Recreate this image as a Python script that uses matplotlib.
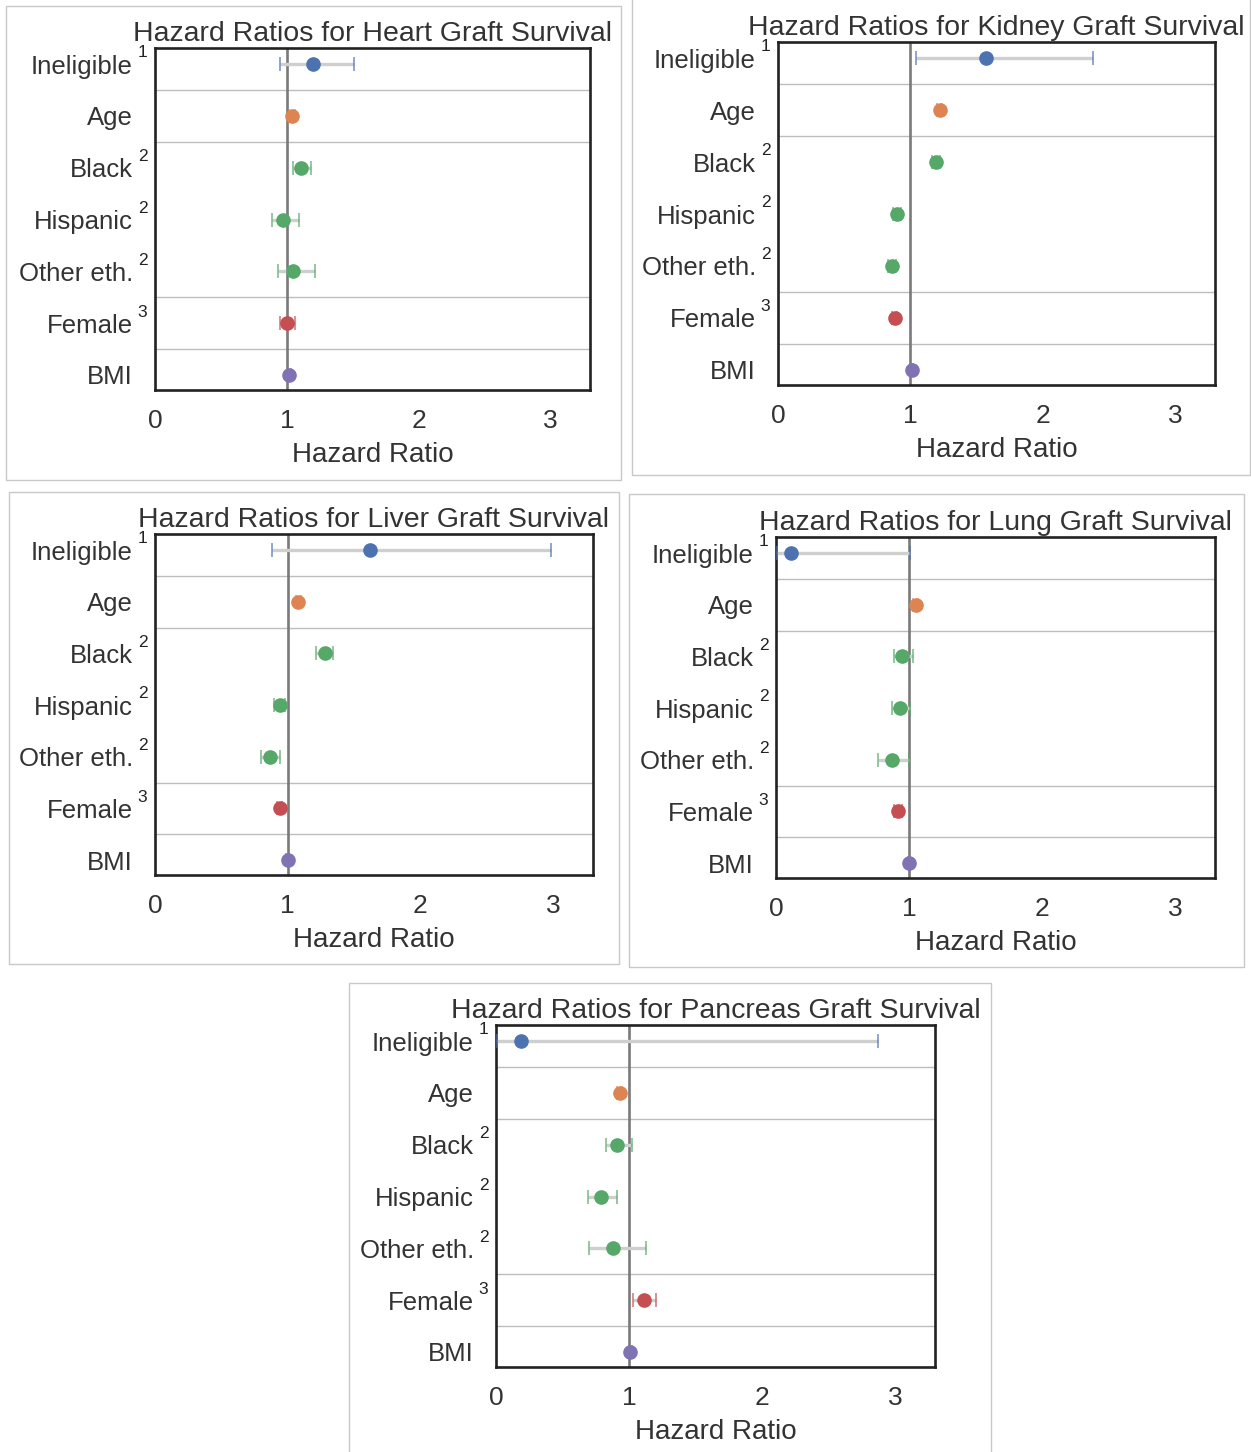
import matplotlib
matplotlib.use("Agg")
import matplotlib.pyplot as plt
from matplotlib.patches import Rectangle

plt.rcParams["font.family"] = ["Liberation Sans", "DejaVu Sans"]

# Covariates (top to bottom) and their footnote markers
labels = ["Ineligible", "Age", "Black", "Hispanic", "Other eth.", "Female", "BMI"]
footnotes = ["1", "", "2", "2", "2", "3", ""]

# Hazard ratios with lower / upper confidence bounds
heart_hr = [1.20, 1.04, 1.11, 0.97, 1.05, 1.00, 1.02]
heart_lo = [0.95, 1.02, 1.05, 0.89, 0.93, 0.95, 1.01]
heart_hi = [1.51, 1.06, 1.18, 1.09, 1.21, 1.06, 1.03]

kidney_hr = [1.57, 1.22, 1.19, 0.90, 0.86, 0.88, 1.01]
kidney_lo = [1.04, 1.20, 1.16, 0.87, 0.83, 0.86, 1.00]
kidney_hi = [2.38, 1.24, 1.22, 0.93, 0.89, 0.90, 1.02]

liver_hr = [1.62, 1.08, 1.28, 0.94, 0.87, 0.94, 1.00]
liver_lo = [0.88, 1.06, 1.21, 0.90, 0.80, 0.92, 0.99]
liver_hi = [2.98, 1.10, 1.34, 0.98, 0.94, 0.96, 1.01]

lung_hr = [0.11, 1.05, 0.95, 0.93, 0.87, 0.92, 1.00]
lung_lo = [0.01, 1.03, 0.89, 0.87, 0.77, 0.89, 0.99]
lung_hi = [1.01, 1.07, 1.03, 1.01, 1.00, 0.95, 1.01]

pancreas_hr = [0.19, 0.93, 0.91, 0.79, 0.88, 1.11, 1.01]
pancreas_lo = [0.01, 0.91, 0.83, 0.69, 0.70, 1.03, 1.00]
pancreas_hi = [2.87, 0.95, 1.02, 0.91, 1.13, 1.20, 1.02]

xticks = [0, 1, 2, 3]
row_colors = ["#4C72B0", "#DD8452", "#55A868", "#55A868", "#55A868", "#C44E52", "#8172B3"]
separators = [0.5, 1.5, 4.5, 5.5]

W, H = 1251, 1452
fig = plt.figure(figsize=(W / 100, H / 100), dpi=100)
fig.patch.set_facecolor("white")

TEXT = "#333333"


def px_axes(left, right, top, bottom):
    return [left / W, 1 - bottom / H, (right - left) / W, (bottom - top) / H]


def panel(rect, organ, hr, lo, hi):
    ax = fig.add_axes(px_axes(*rect))
    ax.set_xlim(0, 3.3)
    ax.set_ylim(6.29, -0.31)
    for y in separators:
        ax.axhline(y, color="#bdbdbd", lw=1.0, zorder=1)
    ax.axvline(1, color="#7a7a7a", lw=1.9, zorder=2)
    rows = list(range(len(labels)))
    for i in rows:
        ax.hlines(i, lo[i], hi[i], color="#cfcfcf", lw=2.4, zorder=3)
        ax.plot([lo[i], hi[i]], [i, i], ls="none", marker="|", ms=10,
                mew=1.1, color=row_colors[i], alpha=0.8, zorder=4)
        ax.plot(hr[i], i, "o", ms=9.5, color=row_colors[i], zorder=5)
    ax.set_yticks(rows)
    ax.set_yticklabels(labels, fontsize=18.5, color=TEXT)
    ax.set_xticks(xticks)
    ax.set_xticklabels([str(t) for t in xticks], fontsize=19, color=TEXT)
    ax.tick_params(axis="both", length=0)
    ax.tick_params(axis="y", pad=16)
    ax.tick_params(axis="x", pad=14)
    ax.set_xlabel("Hazard Ratio", fontsize=20, color=TEXT, labelpad=6)
    ax.set_title(f"Hazard Ratios for {organ} Graft Survival", fontsize=20.5,
                 color=TEXT, pad=5)
    for s in ax.spines.values():
        s.set_color("#222222")
        s.set_linewidth(1.9)
    for i, f in enumerate(footnotes):
        if f:
            ax.annotate(f, xy=(0, i), xycoords=("axes fraction", "data"),
                        xytext=(-9, 8), textcoords="offset points",
                        ha="center", va="center", fontsize=12.5, color="#222222")
    return ax


panel((155, 590, 48, 390), "Heart", heart_hr, heart_lo, heart_hi)
panel((778, 1215, 42, 385), "Kidney", kidney_hr, kidney_lo, kidney_hi)
panel((155, 593, 534, 875), "Liver", liver_hr, liver_lo, liver_hi)
panel((776, 1215, 537, 878), "Lung", lung_hr, lung_lo, lung_hi)
panel((496, 935, 1025, 1367), "Pancreas", pancreas_hr, pancreas_lo, pancreas_hi)

# Light frames around each panel
frames = [(6, 621, 6, 480), (632, 1250, -5, 475), (9, 619, 492, 964),
          (629, 1244, 494, 967), (349, 991, 983, 1460)]
for x0, x1, y0, y1 in frames:
    fig.add_artist(Rectangle((x0 / W, 1 - y1 / H), (x1 - x0) / W, (y1 - y0) / H,
                             transform=fig.transFigure, fill=False,
                             ec="#c8c8c8", lw=1.0))

fig.savefig("out.png", dpi=100, facecolor="white")
